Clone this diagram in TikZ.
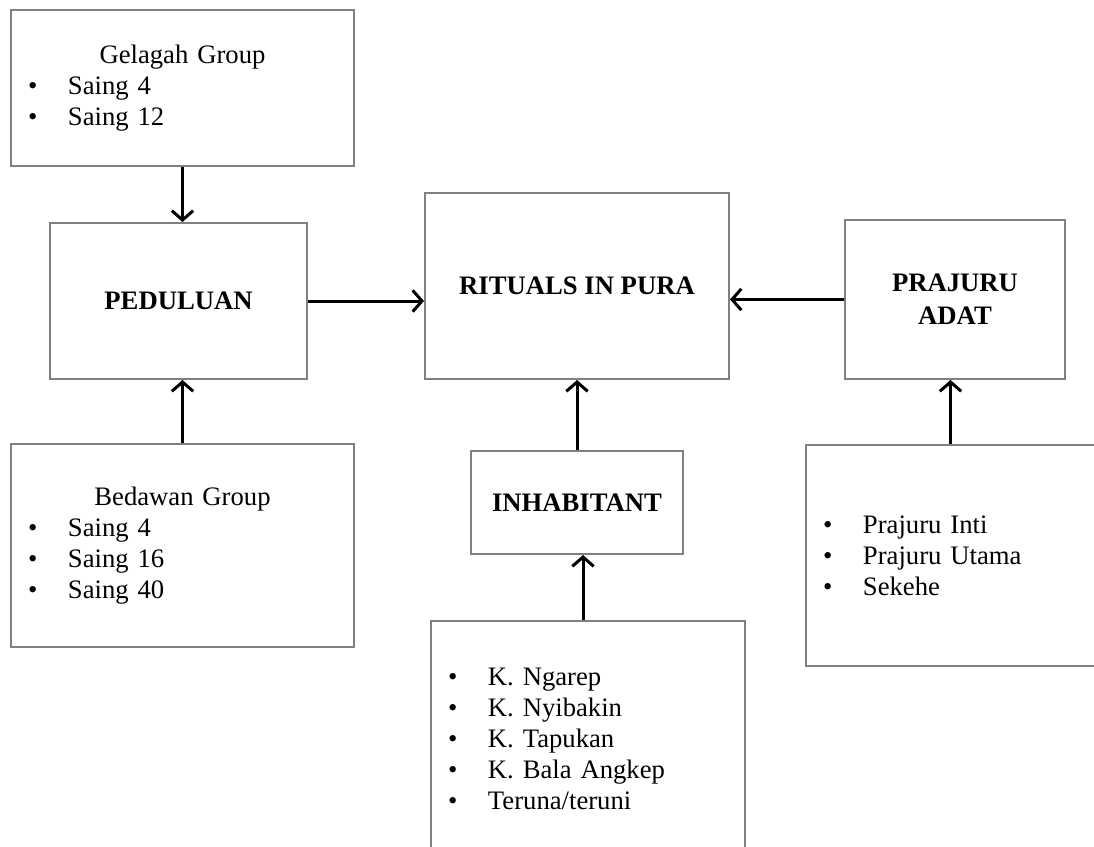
\documentclass[tikz,border=0pt]{standalone}
\usepackage{fontspec}
\setmainfont{Liberation Serif}
\usetikzlibrary{arrows.meta}
\definecolor{boxgray}{RGB}{128,128,128}
\newcommand{\bul}[1]{\makebox[30pt][l]{\textbullet}#1}
\newcommand{\hd}[1]{\makebox[\linewidth]{#1}}

\begin{document}
\begin{tikzpicture}[x=0.75pt,y=-0.75pt,>={Straight Barb[length=7pt,width=16pt]},
    box/.style={draw=boxgray,line width=1.5pt,inner sep=0pt,font=\fontsize{20pt}{23.25pt}\selectfont},
    listbox/.style={box,align=left,inner xsep=12.75pt},
    headbox/.style={box,align=center,font=\fontsize{20pt}{24.75pt}\selectfont\bfseries},
    link/.style={->,line width=2.25pt}]
    \useasboundingbox (0,0) rectangle (1094,846);
    \clip (0,0) rectangle (1094,846);
    \fill[white] (0,0) rectangle (1094,846);
    % left column
    \node[listbox,text width=231.75pt,minimum height=117pt] (gelagah) at (182.5,88)
      {\hd{Gelagah Group}\\\bul{Saing 4}\\\bul{Saing 12}};
    \node[headbox,minimum width=192.75pt,minimum height=117pt] (peduluan) at (178.5,301) {PEDULUAN};
    \node[listbox,text width=231.75pt,minimum height=152.25pt] (bedawan) at (182.5,545.5)
      {\hd{Bedawan Group}\\\bul{Saing 4}\\\bul{Saing 16}\\\bul{Saing 40}};
    % middle column
    \node[headbox,minimum width=228pt,minimum height=139.5pt] (rituals) at (577,286) {RITUALS IN PURA};
    \node[headbox,minimum width=159pt,minimum height=77.25pt] (inhabitant) at (577,502.5) {INHABITANT};
    \node[listbox,text width=210pt,minimum height=177pt] (krama) at (588,739)
      {\bul{K. Ngarep}\\\bul{K. Nyibakin}\\\bul{K. Tapukan}\\\bul{K. Bala Angkep}\\\bul{Teruna/teruni}};
    % right column
    \node[headbox,minimum width=165pt,minimum height=119.25pt] (prajuru) at (955,299.5) {PRAJURU\\ADAT};
    \node[listbox,text width=191.25pt,minimum height=165.75pt] (sekehe) at (950.5,555.5)
      {\bul{Prajuru Inti}\\\bul{Prajuru Utama}\\\bul{Sekehe}};
    % links
    \draw[link] (gelagah.south) -- (gelagah.south |- peduluan.north);
    \draw[link] (bedawan.north) -- (bedawan.north |- peduluan.south);
    \draw[link] (peduluan.east) -- (peduluan.east -| rituals.west);
    \draw[link] (prajuru.west) -- (prajuru.west -| rituals.east);
    \draw[link] (inhabitant.north) -- (rituals.south);
    \draw[link] ([xshift=-3.75pt]krama.north) -- ([xshift=-3.75pt]krama.north |- inhabitant.south);
    \draw[link] (sekehe.north) -- (sekehe.north |- prajuru.south);
\end{tikzpicture}
\end{document}
